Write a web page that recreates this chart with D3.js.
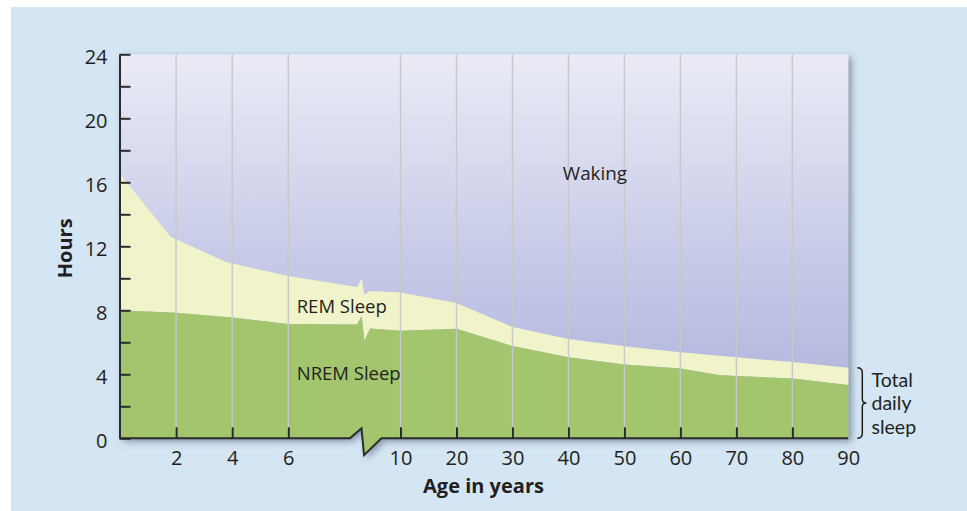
<!DOCTYPE html>
<html>
<head>
<meta charset="utf-8">
<script src="https://cdn.jsdelivr.net/npm/d3@7"></script>
<style>
  html, body { margin: 0; padding: 0; background: #ffffff; }
  svg { display: block; }
  text { font-family: "Open Sans", "Noto Sans", sans-serif; fill: #231f20; }
</style>
</head>
<body>
<svg id="chart" width="967" height="511"></svg>
<script>
// ---------------- data ----------------
const yTickValues = [0, 2, 4, 6, 8, 10, 12, 14, 16, 18, 20, 22, 24];
const yTickLabels = ["0", "", "4", "", "8", "", "12", "", "16", "", "20", "", "24"];
const xTickAges = [2, 4, 6, 10, 20, 30, 40, 50, 60, 70, 80, 90];
const xTickLabels = ["2", "4", "6", "10", "20", "30", "40", "50", "60", "70", "80", "90"];

// childhood segment (0 - ~8 years)
const childTotalAges = [0, 1.8, 3.8, 6, 8.45];
const childTotal = [16.5, 12.6, 11.0, 10.15, 9.45];
const childNremAges = [0, 2, 4, 6, 8.45];
const childNrem = [8.0, 7.85, 7.55, 7.15, 7.12];

// adult segment (10 - 90 years)
const adultTotalAges = [8.9, 10, 20, 30, 40, 50, 60, 70, 80, 90];
const adultTotal = [9.2, 9.12, 8.45, 6.95, 6.2, 5.75, 5.38, 5.06, 4.77, 4.41];
const adultNremAges = [8.92, 10, 20, 30, 40, 50, 60, 66.8, 70, 80, 90];
const adultNrem = [6.87, 6.72, 6.84, 5.77, 5.06, 4.62, 4.37, 3.96, 3.9, 3.74, 3.33];

// scale-break zigzag (ages and hours of the break glyph)
const breakAges = [8.62, 8.71];
const breakTotal = [9.97, 8.98];
const breakNrem = [7.65, 6.12];
const axisBreakAges = [8.2, 8.61, 8.7, 9.32];
const axisBreakHours = [0, 0.625, -1.05, 0];

const labels = { waking: "Waking", rem: "REM Sleep", nrem: "NREM Sleep" };
const sideLabel = ["Total", "daily", "sleep"];

// ---------------- layout ----------------
const svg = d3.select("#chart");
const X0 = 120, X10 = 400.5, X90 = 848.3;
const Y0 = 438.3, Y24 = 54.3;
const x = d3.scaleLinear().domain([0, 10, 90]).range([X0, X10, X90]);
const y = d3.scaleLinear().domain([0, 24]).range([Y0, Y24]);

const zip = (a, b) => a.map((d, i) => [d, b[i]]);
const totalLine = zip(childTotalAges, childTotal).concat(zip(breakAges, breakTotal), zip(adultTotalAges, adultTotal));
const nremLine = zip(childNremAges, childNrem).concat(zip(breakAges, breakNrem), zip(adultNremAges, adultNrem));
const axisLine = [[0, 0]].concat(zip(axisBreakAges, axisBreakHours), [[90, 0]]);
const topLine = [[0, 24], [90, 24]];

const line = d3.line().x(d => x(d[0])).y(d => y(d[1]));
const poly = (top, bottom) => line(top.concat(bottom.slice().reverse())) + "Z";

// page background
svg.append("rect").attr("x", 11).attr("y", 7).attr("width", 956).attr("height", 504).attr("fill", "#d4e5f4");

const defs = svg.append("defs");
const grad = defs.append("linearGradient").attr("id", "wake").attr("gradientUnits", "userSpaceOnUse")
  .attr("x1", 0).attr("x2", 0).attr("y1", y(24)).attr("y2", y(0));
grad.append("stop").attr("offset", 0).attr("stop-color", "#eaebf6");
grad.append("stop").attr("offset", 0.5).attr("stop-color", "#c9cce8");
grad.append("stop").attr("offset", 1).attr("stop-color", "#a9afda");

const f = defs.append("filter").attr("id", "shadow").attr("x", "-5%").attr("y", "-5%").attr("width", "115%").attr("height", "120%");
f.append("feDropShadow").attr("dx", 3).attr("dy", 3).attr("stdDeviation", 3.5)
  .attr("flood-color", "#3d4c63").attr("flood-opacity", 0.55);

const plot = svg.append("g").attr("filter", "url(#shadow)");
plot.append("path").attr("d", poly(topLine, axisLine)).attr("fill", "url(#wake)");
plot.append("path").attr("d", poly(totalLine, nremLine)).attr("fill", "#f1f4ca");
plot.append("path").attr("d", poly(nremLine, axisLine)).attr("fill", "#a3c56e");

// vertical grid lines
svg.append("g").selectAll("line").data(xTickAges.filter(a => a < 90)).join("line")
  .attr("x1", d => x(d)).attr("x2", d => x(d))
  .attr("y1", y(24)).attr("y2", y(0))
  .attr("stroke", "#c8c8c8").attr("stroke-width", 1.4);

// y axis
const yAxis = d3.axisLeft(y).tickValues(yTickValues)
  .tickFormat((d, i) => yTickLabels[i]).tickSize(-11).tickSizeOuter(0).tickPadding(12);
const gy = svg.append("g").attr("transform", `translate(${X0 - 0.5},0)`).call(yAxis);
gy.select(".domain").attr("stroke", "#2b2b2b").attr("stroke-width", 2);
gy.selectAll(".tick line").attr("stroke", "#2b2b2b").attr("stroke-width", 2);
gy.selectAll(".tick text").attr("font-size", 20).attr("fill", "#231f20")
  .attr("font-family", '"Open Sans", sans-serif').attr("dy", "0.45em");

// x axis (ticks + labels), domain replaced by zigzag line
const xAxis = d3.axisBottom(x).tickValues(xTickAges)
  .tickFormat((d, i) => xTickLabels[i]).tickSize(-11).tickSizeOuter(0).tickPadding(12.5);
const gx = svg.append("g").attr("transform", `translate(0,${Y0})`).call(xAxis);
gx.select(".domain").remove();
gx.selectAll(".tick line").attr("stroke", d => d === 90 ? "none" : "#2b2b2b").attr("stroke-width", 2);
gx.selectAll(".tick text").attr("font-size", 20).attr("fill", "#231f20")
  .attr("font-family", '"Open Sans", sans-serif');

svg.append("path").attr("d", line(axisLine)).attr("fill", "none")
  .attr("stroke", "#2b2b2b").attr("stroke-width", 2).attr("stroke-linejoin", "miter");

// axis titles
svg.append("text").attr("transform", `translate(72,${(Y0 + Y24) / 2 + 2}) rotate(-90)`)
  .attr("text-anchor", "middle").attr("font-size", 20).attr("font-weight", "bold").text("Hours");
svg.append("text").attr("x", 483.5).attr("y", 493).attr("text-anchor", "middle")
  .attr("font-size", 20).attr("font-weight", "bold").text("Age in years");

// area labels
svg.append("text").attr("x", x(39)).attr("y", y(16.15)).attr("font-size", 18.8).text(labels.waking);
svg.append("text").attr("x", x(6.3)).attr("y", y(7.82)).attr("font-size", 18.5).text(labels.rem);
svg.append("text").attr("x", x(6.3)).attr("y", y(3.64)).attr("font-size", 18.5).text(labels.nrem);

// brace + side label
const bTop = y(adultTotal[adultTotal.length - 1]), bBot = y(0), bMid = (bTop + bBot) / 2;
const bx = X90 + 9;
const brace = `M${bx},${bTop} Q${bx + 5},${bTop} ${bx + 5},${bTop + 5} L${bx + 5},${bMid - 4} Q${bx + 5},${bMid} ${bx + 9},${bMid}
  Q${bx + 5},${bMid} ${bx + 5},${bMid + 4} L${bx + 5},${bBot - 5} Q${bx + 5},${bBot} ${bx},${bBot}`;
svg.append("path").attr("d", brace).attr("fill", "none").attr("stroke", "#231f20").attr("stroke-width", 1.5);
svg.append("g").selectAll("text").data(sideLabel).join("text")
  .attr("x", 871.5).attr("y", (d, i) => 386.5 + i * 23.6)
  .style("font-family", "Lato, 'Open Sans', sans-serif").attr("font-size", 19.5)
  .text(d => d);
</script>
</body>
</html>
